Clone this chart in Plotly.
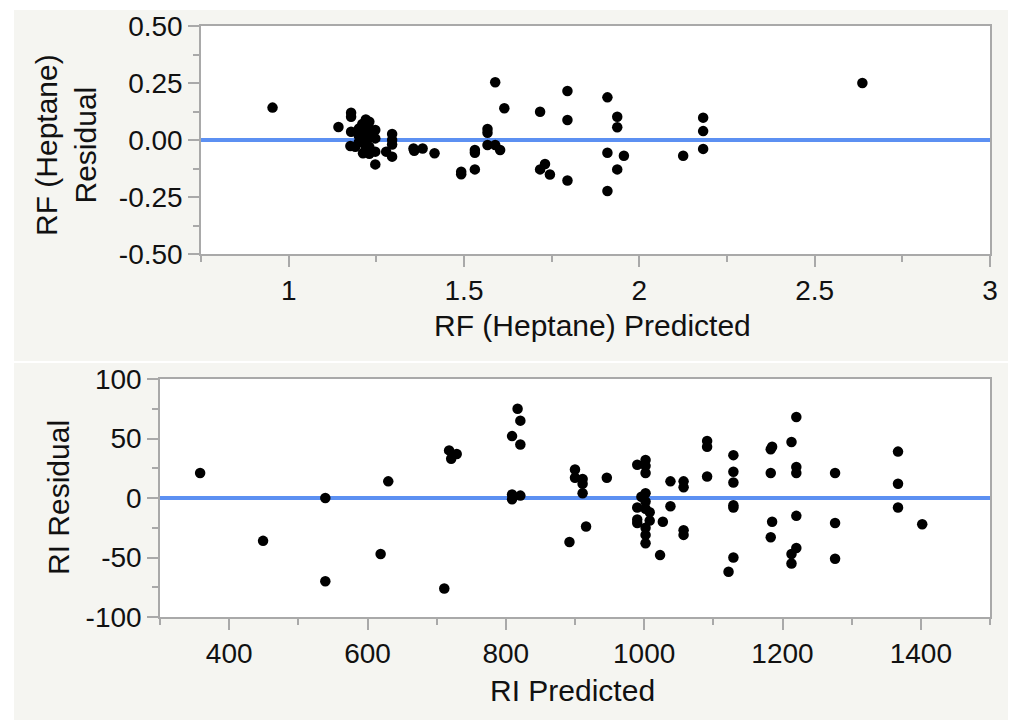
import plotly.graph_objects as go

# ---- data ----
rf_pred = [0.954, 1.142, 1.178, 1.178, 1.178, 1.176, 1.19, 1.20, 1.20, 1.20, 1.21, 1.21, 1.21,
           1.22, 1.22, 1.22, 1.22, 1.22, 1.23, 1.23, 1.23, 1.23, 1.23, 1.24, 1.212,
           1.247, 1.247, 1.247, 1.247, 1.278, 1.295, 1.295, 1.295, 1.295, 1.356, 1.358,
           1.382, 1.416, 1.492, 1.492, 1.531, 1.531, 1.531, 1.567, 1.567, 1.567, 1.589,
           1.603, 1.589, 1.615, 1.717, 1.717, 1.731, 1.745, 1.795, 1.795, 1.795, 1.909,
           1.909, 1.909, 1.937, 1.937, 1.937, 1.956, 2.125, 2.182, 2.182, 2.182, 2.636]
rf_resid = [0.142, 0.057, 0.120, 0.102, 0.036, -0.026, -0.03, 0.05, 0.02, -0.01, 0.07, 0.04, 0.00,
            0.09, 0.06, 0.03, -0.02, -0.04, 0.08, 0.05, 0.01, -0.03, -0.06, 0.02, -0.058,
            0.044, 0.007, -0.051, -0.107, -0.051, 0.026, 0.0, -0.02, -0.073, -0.037, -0.047,
            -0.037, -0.058, -0.139, -0.150, -0.044, -0.056, -0.129, 0.048, 0.032, -0.022, -0.022,
            -0.044, 0.253, 0.139, 0.124, -0.129, -0.105, -0.151, 0.215, 0.088, -0.178, 0.187,
            -0.056, -0.224, 0.102, 0.056, -0.129, -0.069, -0.069, 0.098, 0.039, -0.039, 0.250]

ri_pred = [358, 449, 539, 539, 619, 630, 711, 718, 729, 721, 817, 821, 809, 821, 809, 809, 821,
           900, 900, 911, 911, 911, 892, 916, 946, 990, 1002, 1002, 1002, 1002, 996, 1002, 990,
           1002, 1008, 990, 990, 1008, 1002, 1002, 1002, 1027, 1023, 1038, 1038, 1057, 1057,
           1057, 1057, 1091, 1091, 1091, 1129, 1129, 1129, 1129, 1129, 1129, 1122, 1220, 1213,
           1183, 1185, 1183, 1220, 1220, 1276, 1185, 1183, 1220, 1220, 1213, 1213, 1276, 1276,
           1367, 1367, 1367, 1402]
ri_resid = [21, -36, 0, -70, -47, 14, -76, 40, 37, 33, 75, 65, 52, 45, 3, -1, 2,
            24, 17, 16, 12, 4, -37, -24, 17, 28, 32, 27, 21, 4, 1, -3, -8,
            -9, -12, -18, -21, -19, -25, -31, -38, -20, -48, 14, -7, 14, 9,
            -27, -31, 48, 43, 18, 36, 22, 13, -6, -8, -50, -62, 68, 47,
            41, 43, 21, 26, 21, 21, -20, -33, -15, -42, -47, -55, -21, -51,
            39, 12, -8, -22]

top_xticks = [1, 1.5, 2, 2.5, 3]
top_xlabels = ["1", "1.5", "2", "2.5", "3"]
top_yticks = [-0.5, -0.25, 0, 0.25, 0.5]
top_ylabels = ["-0.50", "-0.25", "0.00", "0.25", "0.50"]
bot_xticks = [400, 600, 800, 1000, 1200, 1400]
bot_xlabels = ["400", "600", "800", "1000", "1200", "1400"]
bot_yticks = [-100, -50, 0, 50, 100]
bot_ylabels = ["-100", "-50", "0", "50", "100"]

W, H = 1016, 720
OFF = 8  # page body margin offset
FONT = "Helvetica Neue, Helvetica, Arial, Liberation Sans, sans-serif"
TICKFONT = dict(family=FONT, size=28, color="#111111")
TITLEFONT = dict(family=FONT, size=30, color="#111111")
AXCOL = "#a9a9a9"
BLUE = "#5c90f2"
PANEL = "#f5f5f1"


def px(x):
    return (x - OFF) / W


def py(y):
    return 1 - (y - OFF) / H


fig = go.Figure()
fig.add_trace(go.Scatter(x=rf_pred, y=rf_resid, mode="markers", xaxis="x", yaxis="y",
                         marker=dict(color="black", size=10.5), showlegend=False))
fig.add_trace(go.Scatter(x=ri_pred, y=ri_resid, mode="markers", xaxis="x2", yaxis="y2",
                         marker=dict(color="black", size=10.5), showlegend=False))

top_dom_x = [px(201), px(990)]
top_dom_y = [py(254), py(26)]
bot_dom_x = [px(160), px(990)]
bot_dom_y = [py(617), py(379)]

common = dict(showline=True, linecolor=AXCOL, linewidth=1.5, mirror=True,
              ticks="outside", ticklen=11, tickwidth=1.5, tickcolor=AXCOL,
              showgrid=False, tickfont=TICKFONT, automargin=False)


def minor(d):
    return dict(dtick=d, tick0=0, ticks="outside", ticklen=6, tickcolor=AXCOL, tickwidth=1.5)


fig.update_layout(
    width=W, height=H,
    margin=dict(l=0, r=0, t=0, b=0),
    paper_bgcolor="white", plot_bgcolor="white",
    xaxis=dict(domain=top_dom_x, range=[0.75, 3], tickvals=top_xticks, ticktext=top_xlabels,
               anchor="y", zeroline=False, minor=minor(0.25), **common),
    yaxis=dict(domain=top_dom_y, range=[-0.5, 0.5], tickvals=top_yticks, ticktext=top_ylabels,
               anchor="x", zeroline=True, zerolinecolor=BLUE, zerolinewidth=3.5,
               minor=minor(0.125), **common),
    xaxis2=dict(domain=bot_dom_x, range=[300, 1500], tickvals=bot_xticks, ticktext=bot_xlabels,
                anchor="y2", zeroline=False, minor=minor(100), **common),
    yaxis2=dict(domain=bot_dom_y, range=[-100, 100], tickvals=bot_yticks, ticktext=bot_ylabels,
                anchor="x2", zeroline=True, zerolinecolor=BLUE, zerolinewidth=3.5,
                minor=minor(25), **common),
)

shapes = [
    dict(type="rect", xref="paper", yref="paper", x0=px(14), x1=1, y0=py(361), y1=py(10),
         fillcolor=PANEL, line=dict(width=0), layer="below"),
    dict(type="rect", xref="paper", yref="paper", x0=px(14), x1=px(1013), y0=0, y1=py(363),
         fillcolor=PANEL, line=dict(width=0), layer="below"),
    dict(type="rect", xref="paper", yref="paper", x0=top_dom_x[0], x1=top_dom_x[1],
         y0=top_dom_y[0], y1=top_dom_y[1], fillcolor="white", line=dict(width=0), layer="below"),
    dict(type="rect", xref="paper", yref="paper", x0=bot_dom_x[0], x1=bot_dom_x[1],
         y0=bot_dom_y[0], y1=bot_dom_y[1], fillcolor="white", line=dict(width=0), layer="below"),
]
fig.update_layout(shapes=shapes)

annotations = [
    dict(text="RF (Heptane)<br>Residual", x=px(66), y=py(145), textangle=-90),
    dict(text="RF (Heptane) Predicted", x=px(592), y=py(325)),
    dict(text="RI Residual", x=px(58), y=py(498), textangle=-90),
    dict(text="RI Predicted", x=px(572), y=py(690)),
]
for a in annotations:
    a.update(xref="paper", yref="paper", showarrow=False, xanchor="center", yanchor="middle",
             font=TITLEFONT)
fig.update_layout(annotations=annotations)

fig.write_html("out.html")
